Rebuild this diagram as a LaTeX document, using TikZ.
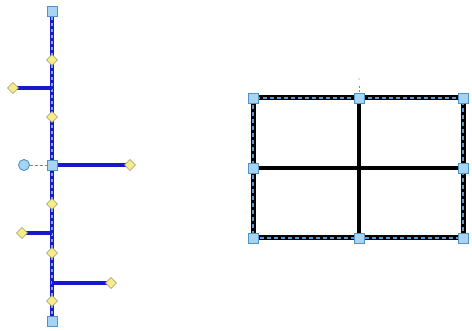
\documentclass[tikz,border=0pt]{standalone}
\usetikzlibrary{shapes.geometric}
\begin{document}
\begin{tikzpicture}[x=1pt,y=-1pt,
  handle/.style={draw=handleedge,fill=handlefill,line width=0.9pt,minimum size=10pt,inner sep=0pt,outer sep=0pt,rectangle},
  dia/.style={draw=diaedge,fill=diafill,line width=0.7pt,diamond,minimum size=11pt,inner sep=0pt,outer sep=0pt},
  circ/.style={draw=handleedge,fill=handlefill,line width=0.9pt,circle,minimum size=11pt,inner sep=0pt},
  bluebar/.style={draw=barblue,line width=4pt},
  dashover/.style={draw=dashblue,line width=1.2pt,dash pattern=on 3pt off 3pt},
  blackbar/.style={draw=black,line width=4pt}]
\definecolor{handlefill}{HTML}{A8D4F4}
\definecolor{handleedge}{HTML}{4F93C9}
\definecolor{diafill}{HTML}{F6EC8A}
\definecolor{diaedge}{HTML}{9A9A70}
\definecolor{barblue}{HTML}{1818CC}
\definecolor{dashblue}{HTML}{7FA8E8}
\definecolor{borderdash}{HTML}{5C9AD2}
\useasboundingbox (0,0) rectangle (472,331);
% ---- left tree ----
\coordinate (t) at (52,11);
\coordinate (m) at (52,165);
\coordinate (b) at (52,321);
\coordinate (j1) at (52,88);
\coordinate (j2) at (52,233);
\coordinate (j3) at (52,283);
\coordinate (e1) at (13,88);
\coordinate (e2) at (130,165);
\coordinate (e3) at (22,233);
\coordinate (e4) at (111,283);
\draw[bluebar] (t) -- (b);
\draw[dashover] (t) -- (b);
\draw[bluebar] (j1) -- (e1);
\draw[bluebar] (m) -- (e2);
\draw[bluebar] (j2) -- (e3);
\draw[bluebar] (j3) -- (e4);
\node[circ] (c) at (24,165) {};
\draw[handleedge,line width=0.9pt,dash pattern=on 3pt off 2pt] (c) -- (m);
\node[handle] (ht) at (t) {};
\node[handle] (hm) at (m) {};
\node[handle] (hb) at (b) {};
\node[dia] (d1) at (52,60) {};
\node[dia] (d2) at (52,117) {};
\node[dia] (d3) at (52,204) {};
\node[dia] (d4) at (52,253) {};
\node[dia] (d5) at (52,301) {};
\node[dia] (de1) at (e1) {};
\node[dia] (de2) at (e2) {};
\node[dia] (de3) at (e3) {};
\node[dia] (de4) at (e4) {};
% ---- right grid ----
\coordinate (g11) at (253,98);
\coordinate (g12) at (359,98);
\coordinate (g13) at (463,98);
\coordinate (g21) at (253,168);
\coordinate (g22) at (359,168);
\coordinate (g23) at (463,168);
\coordinate (g31) at (253,238);
\coordinate (g32) at (359,238);
\coordinate (g33) at (463,238);
\draw[blackbar] (g12) -- (g32);
\draw[blackbar] (g21) -- (g23);
\draw[black,line width=5pt] (g11) rectangle (g33);
\draw[borderdash,line width=1.5pt,dash pattern=on 4pt off 3pt] (g11) rectangle (g33);
\coordinate (rot) at (359,79);
\fill[handleedge] (rot) circle (0.7pt);
\draw[handleedge,line width=0.7pt,dash pattern=on 2pt off 2pt] (359,86) -- (g12);
\foreach \n in {g11,g12,g13,g21,g23,g31,g32,g33}{
  \node[handle] (h\n) at (\n) {};
}
\end{tikzpicture}
\end{document}
